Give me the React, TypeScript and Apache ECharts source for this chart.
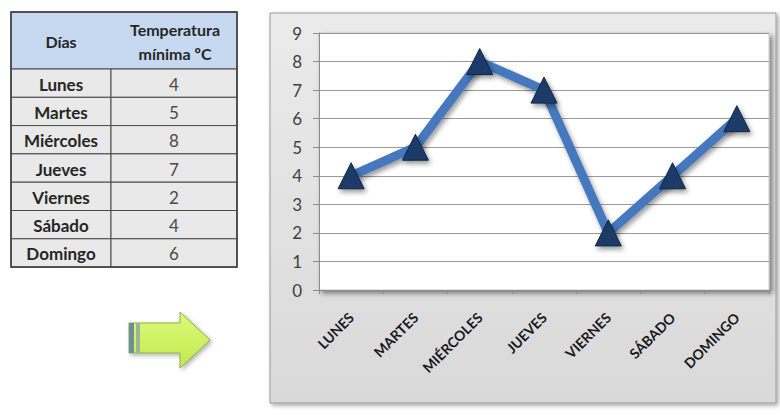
import React, { useEffect, useRef } from "react";
import * as echarts from "echarts";

const days = ["Lunes", "Martes", "Miércoles", "Jueves", "Viernes", "Sábado", "Domingo"];
const temps = [4, 5, 8, 7, 2, 4, 6];
const headerDay = "Días";
const headerTemp = ["Temperatura", "mínima ºC"];
const yMin = 0;
const yMax = 9;
const yStep = 1;

const FONT = "Lato, 'Open Sans', sans-serif";

function buildTable(): any[] {
  const x0 = 11, x1 = 111, x2 = 237;
  const yTop = 12, yHead = 69, rowH = 28.3;
  const els: any[] = [];
  els.push({
    type: "rect",
    shape: { x: x0, y: yTop, width: x2 - x0, height: yHead - yTop },
    style: { fill: "#c6d9f0", stroke: "#4a4a4a", lineWidth: 1 },
  });
  days.forEach((d, i) => {
    const y = yHead + i * rowH;
    els.push({
      type: "rect",
      shape: { x: x0, y, width: x1 - x0, height: rowH },
      style: { fill: "#e9e9e9", stroke: "#4a4a4a", lineWidth: 1 },
    });
    els.push({
      type: "rect",
      shape: { x: x1, y, width: x2 - x1, height: rowH },
      style: { fill: "#e9e9e9", stroke: "#4a4a4a", lineWidth: 1 },
    });
    els.push({
      type: "text",
      x: (x0 + x1) / 2,
      y: y + rowH / 2 + 1,
      style: { text: d, fill: "#262626", font: `bold 17px ${FONT}`, align: "center", verticalAlign: "middle" },
    });
    els.push({
      type: "text",
      x: (x1 + x2) / 2,
      y: y + rowH / 2 + 1,
      style: { text: String(temps[i]), fill: "#4a4a4a", font: `17px ${FONT}`, align: "center", verticalAlign: "middle" },
    });
  });
  els.push({
    type: "text",
    x: (x0 + x1) / 2,
    y: (yTop + yHead) / 2 + 1,
    style: { text: headerDay, fill: "#262626", font: `bold 16px ${FONT}`, align: "center", verticalAlign: "middle" },
  });
  headerTemp.forEach((t, k) => {
    els.push({
      type: "text",
      x: (x1 + x2) / 2 + 1,
      y: 29 + k * 24,
      style: { text: t, fill: "#262626", font: `bold 16px ${FONT}`, align: "center", verticalAlign: "middle" },
    });
  });
  els.push({
    type: "rect",
    shape: { x: x0, y: yTop, width: x2 - x0, height: yHead - yTop + rowH * days.length },
    style: { fill: "none", stroke: "#3a3a3a", lineWidth: 1.5 },
  });
  return els;
}

export default function App() {
  const ref = useRef<HTMLDivElement>(null);
  useEffect(() => {
    if (!ref.current) return;
    const chart = echarts.init(ref.current, null, { renderer: "svg" });
    chart.setOption({
      animation: false,
      backgroundColor: "#ffffff",
      grid: {
        left: 319,
        top: 33,
        width: 450,
        height: 257,
        show: true,
        backgroundColor: "#ffffff",
        borderColor: "#c8c8c8",
        borderWidth: 1,
        shadowColor: "rgba(0,0,0,0.45)",
        shadowBlur: 5,
        shadowOffsetX: 3,
        shadowOffsetY: 3,
      },
      xAxis: {
        type: "category",
        data: days,
        boundaryGap: true,
        axisLine: { show: true, lineStyle: { color: "#8c8c8c", width: 1 } },
        axisTick: { show: true, length: 4, lineStyle: { color: "#8c8c8c" } },
        axisLabel: {
          rotate: 45,
          margin: 25,
          interval: 0,
          color: "#1a1a1a",
          fontFamily: FONT,
          fontWeight: "bold",
          fontSize: 14,
          formatter: (v: string) => v.toUpperCase(),
        },
        splitLine: { show: false },
      },
      yAxis: {
        type: "value",
        min: yMin,
        max: yMax,
        interval: yStep,
        axisLine: { show: true, lineStyle: { color: "#8c8c8c", width: 1 } },
        axisTick: { show: true, length: 6, lineStyle: { color: "#8c8c8c" } },
        axisLabel: { color: "#404040", fontFamily: FONT, fontSize: 17, margin: 17 },
        splitLine: { show: true, lineStyle: { color: "#9a9a9a", width: 1 } },
      },
      graphic: [
        {
          type: "rect",
          z: -10,
          shape: { x: 270, y: 13, width: 506, height: 390 },
          style: {
            fill: new echarts.graphic.LinearGradient(0, 0, 0, 1, [
              { offset: 0, color: "#ebebeb" },
              { offset: 1, color: "#d9d9d9" },
            ]),
            stroke: "#9a9a9a",
            lineWidth: 1,
            shadowColor: "rgba(0,0,0,0.35)",
            shadowBlur: 4,
            shadowOffsetX: 2,
            shadowOffsetY: 2,
          },
        },
        ...buildTable(),
        {
          type: "polygon",
          shape: {
            points: [
              [129, 323], [180, 323], [180, 312], [210, 340], [180, 368], [180, 353], [129, 353],
            ],
          },
          style: {
            fill: new echarts.graphic.LinearGradient(0, 0, 0, 1, [
              { offset: 0, color: "#dcfa7a" },
              { offset: 1, color: "#c2ea4e" },
            ]),
            stroke: "#8fae42",
            lineWidth: 1,
            shadowColor: "rgba(0,0,0,0.3)",
            shadowBlur: 4,
            shadowOffsetX: 2,
            shadowOffsetY: 2,
          },
        },
        { type: "rect", shape: { x: 129, y: 323, width: 5, height: 30 }, style: { fill: "#6f8f96" } },
        { type: "rect", shape: { x: 136, y: 323, width: 4, height: 30 }, style: { fill: "#9fb39a" } },
      ],
      series: [
        {
          type: "line",
          data: temps,
          symbol: "triangle",
          symbolSize: 26,
          lineStyle: {
            width: 9,
            color: "#4478bd",
            shadowColor: "rgba(0,0,0,0.4)",
            shadowBlur: 5,
            shadowOffsetX: 2,
            shadowOffsetY: 3,
          },
          itemStyle: {
            color: "#1c3b68",
            borderColor: "#122640",
            borderWidth: 1,
            shadowColor: "rgba(0,0,0,0.4)",
            shadowBlur: 5,
            shadowOffsetX: 2,
            shadowOffsetY: 3,
          },
          z: 3,
        },
      ],
    });
    return () => chart.dispose();
  }, []);
  return (
    <div
      ref={ref}
      style={{ position: "fixed", left: 0, top: 0, width: 780, height: 415 }}
    />
  );
}
